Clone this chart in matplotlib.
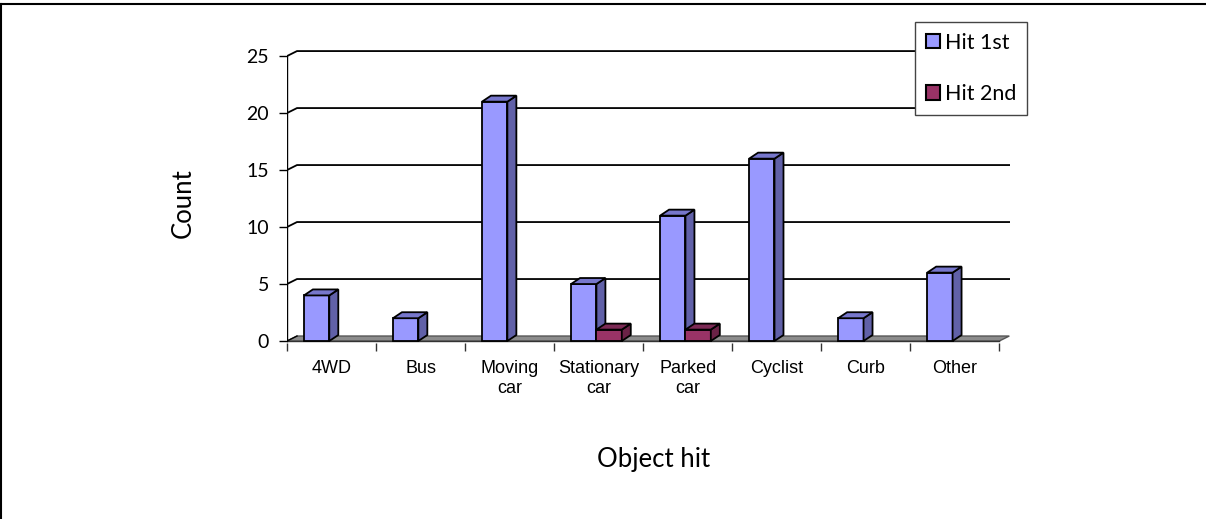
import matplotlib
matplotlib.use("Agg")
import matplotlib.pyplot as plt
from matplotlib.lines import Line2D
from matplotlib.patches import Patch

categories = ["4WD", "Bus", "Moving\ncar", "Stationary\ncar", "Parked\ncar",
              "Cyclist", "Curb", "Other"]
hit_1st = [4, 2, 21, 5, 11, 16, 2, 6]
hit_2nd = [0, 0, 0, 1, 1, 0, 0, 0]
yticks = [0, 5, 10, 15, 20, 25]

fig = plt.figure(figsize=(12.06, 5.19), dpi=100)
ax = fig.add_axes([287 / 1206, (519 - 343.3) / 519, (1010 - 287) / 1206, 0.571])
ax.set_xlim(0, 8.12)
ax.set_ylim(-0.2, 25.8)
for s in ax.spines.values():
    s.set_visible(False)

# pixel -> data conversions for the 3d offsets
px_x = 1 / 89.1
px_y = 1 / 11.4
gdx, gdy = 10 * px_x, 5 * px_y   # back wall offset
bdx, bdy = 9 * px_x, 6 * px_y    # bar depth
n = len(categories)

# floor
ax.fill([0, n, n + gdx, gdx], [0, 0, gdy, gdy], facecolor="#8c8c8c",
        edgecolor="#555555", lw=1, zorder=1)

# gridlines on the back wall, joined to the front axis
for v in yticks[1:]:
    ax.plot([0, gdx, n + gdx], [v, v + gdy, v + gdy], color="black", lw=1.3, zorder=0.5)
ax.plot([0, gdx], [0, gdy], color="black", lw=1, zorder=1.5)

# front axes
ax.plot([0, 0], [0, 25], color="black", lw=1, zorder=3)
ax.plot([0, n], [0, 0], color="#333333", lw=1, zorder=1.5)


def bar3d(x0, w, h, front, side, top, z):
    if h <= 0:
        return
    ax.fill([x0, x0 + w, x0 + w, x0], [0, 0, h, h], facecolor=front,
            edgecolor="black", lw=1.3, zorder=z)
    ax.fill([x0 + w, x0 + w + bdx, x0 + w + bdx, x0 + w],
            [0, bdy, h + bdy, h], facecolor=side, edgecolor="black", lw=1.3, zorder=z)
    ax.fill([x0, x0 + w, x0 + w + bdx, x0 + bdx], [h, h, h + bdy, h + bdy],
            facecolor=top, edgecolor="black", lw=1.3, zorder=z)


w = 0.285
for i in range(n):
    bar3d(i + 0.19, w, hit_1st[i], "#9999ff", "#6161a8", "#7777cc", 4)
    bar3d(i + 0.475, w, hit_2nd[i], "#993366", "#6a2246", "#7c2a55", 5)

# ticks
ax.set_yticks(yticks)
ax.set_yticklabels([str(v) for v in yticks], fontsize=14, family=["Lato", "DejaVu Sans"])
ax.tick_params(axis="y", length=6, width=1, pad=7)
ax.set_xticks([i + 0.5 for i in range(n)])
ax.set_xticklabels(categories, fontsize=13, family=["Liberation Sans Narrow", "Liberation Sans"],
                   linespacing=1.2, va="top")
ax.tick_params(axis="x", length=0, pad=12)
ax.set_xticks(range(n + 1), minor=True)
ax.tick_params(axis="x", which="minor", length=6, width=1, color="#333333")

fig.text(183 / 1206, 1 - 203 / 519, "Count", fontsize=18.5, rotation=90,
         family=["Lato", "DejaVu Sans"], ha="center", va="center")
fig.text(654 / 1206, 1 - 460 / 519, "Object hit", fontsize=18.5,
         family=["Lato", "DejaVu Sans"], ha="center", va="center")

handles = [Patch(facecolor="#9999ff", edgecolor="black", lw=1.5, label="Hit 1st"),
           Patch(facecolor="#993366", edgecolor="black", lw=1.5, label="Hit 2nd")]
leg = fig.legend(handles=handles, loc="upper left", bbox_to_anchor=(915 / 1206, 1 - 22 / 519),
                 prop={"family": ["Lato", "DejaVu Sans"], "size": 15.5}, fancybox=False,
                 edgecolor="#444444", framealpha=1, handlelength=0.65, handleheight=0.65,
                 handletextpad=0.25, labelspacing=1.45, borderpad=0.5, borderaxespad=0)
leg.get_frame().set_linewidth(1)

# outer chart border (top and left visible)
fig.add_artist(Line2D([0.001, 1], [1 - 4 / 519, 1 - 4 / 519], color="black", lw=1.5))
fig.add_artist(Line2D([0.001, 0.001], [0, 1 - 4 / 519], color="black", lw=1.5))

fig.savefig("out.png", dpi=100)
